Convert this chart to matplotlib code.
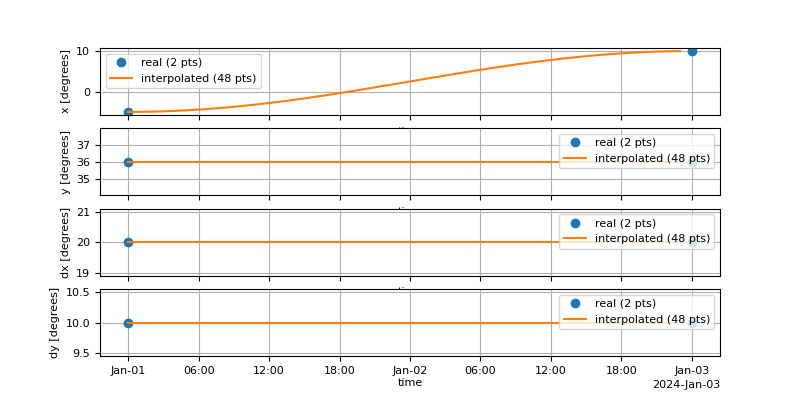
import numpy as np
import pandas as pd
import matplotlib
matplotlib.use("Agg")
import matplotlib.pyplot as plt
import matplotlib.dates as mdates

plt.rcParams["font.size"] = 8

# real samples
real_time = pd.to_datetime(["2024-01-01 00:00", "2024-01-03 00:00"])
real_x = [-5.0, 10.0]
real_y = [36.0, 36.0]
real_dx = [20.0, 20.0]
real_dy = [10.0, 10.0]

# interpolated samples, hourly
interp_time = pd.date_range("2024-01-01 00:00", periods=48, freq="h")
interp_x = [-5.00, -4.98, -4.94, -4.86, -4.74, -4.60, -4.43, -4.23, -4.00, -3.74,
            -3.45, -3.14, -2.80, -2.45, -2.07, -1.67, -1.25, -0.82, -0.37, 0.09,
            0.56, 1.04, 1.52, 2.01, 2.50, 2.99, 3.48, 3.96, 4.44, 4.91,
            5.37, 5.82, 6.25, 6.67, 7.07, 7.45, 7.80, 8.14, 8.45, 8.74,
            9.00, 9.23, 9.43, 9.60, 9.74, 9.86, 9.94, 9.98]
interp_y = [36.0] * 48
interp_dx = [20.0] * 48
interp_dy = [10.0] * 48

names = ["x", "y", "dx", "dy"]
reals = [real_x, real_y, real_dx, real_dy]
interps = [interp_x, interp_y, interp_dx, interp_dy]

fig, axes = plt.subplots(4, 1, figsize=(8, 4), dpi=100, sharex=True)
for i, (ax, name, rv, iv) in enumerate(zip(axes, names, reals, interps)):
    ax.plot(real_time, rv, "o", label="real (%d pts)" % len(rv))
    ax.plot(interp_time, iv, "-", label="interpolated (%d pts)" % len(iv))
    ax.set_ylabel(name + " [degrees]")
    # labels of the upper axes end up mostly hidden behind the next axes
    ax.set_xlabel("time", labelpad=1.5 if i == 3 else 5)
    ax.grid(True)
    ax.legend(loc="best")

loc = mdates.AutoDateLocator()
axes[-1].xaxis.set_major_locator(loc)
axes[-1].xaxis.set_major_formatter(mdates.ConciseDateFormatter(loc))

fig.savefig("out.png")
